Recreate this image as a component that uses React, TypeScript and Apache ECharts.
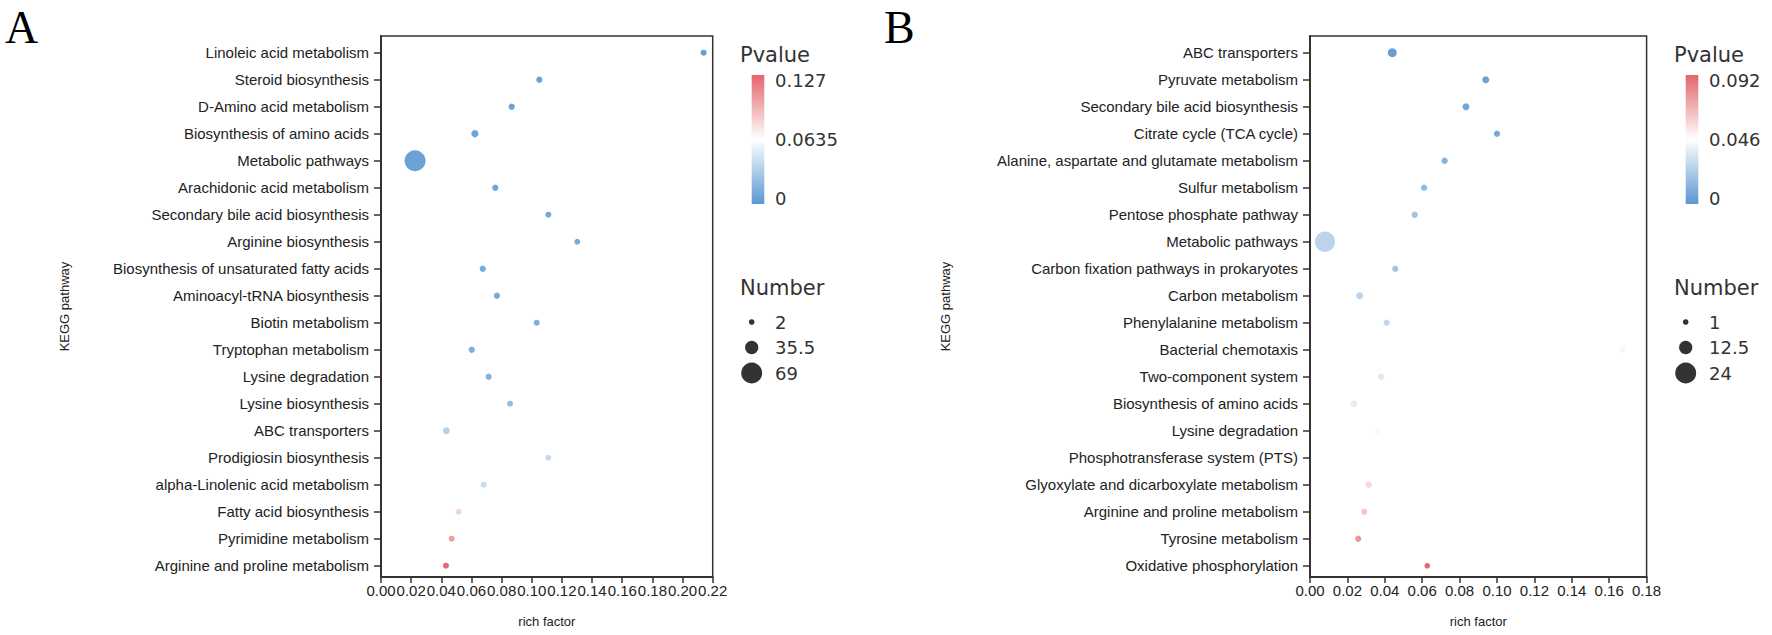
import React, { useEffect, useRef } from "react";
import * as echarts from "echarts";

// ---------- Panel A data ----------
const pathwaysA = [
  "Linoleic acid metabolism",
  "Steroid biosynthesis",
  "D-Amino acid metabolism",
  "Biosynthesis of amino acids",
  "Metabolic pathways",
  "Arachidonic acid metabolism",
  "Secondary bile acid biosynthesis",
  "Arginine biosynthesis",
  "Biosynthesis of unsaturated fatty acids",
  "Aminoacyl-tRNA biosynthesis",
  "Biotin metabolism",
  "Tryptophan metabolism",
  "Lysine degradation",
  "Lysine biosynthesis",
  "ABC transporters",
  "Prodigiosin biosynthesis",
  "alpha-Linolenic acid metabolism",
  "Fatty acid biosynthesis",
  "Pyrimidine metabolism",
  "Arginine and proline metabolism",
];
const richA = [0.214, 0.105, 0.0867, 0.0623, 0.0226, 0.0758, 0.111, 0.1302, 0.0675, 0.0769, 0.1033, 0.0602, 0.0714, 0.0856, 0.0433, 0.111, 0.0681, 0.0515, 0.0469, 0.0431];
const numberA = [4, 5, 5, 9, 69, 5, 4, 3, 5, 5, 4, 5, 5, 4, 8, 2, 4, 3, 4, 4];
const pvalueA = [0.004, 0.006, 0.007, 0.008, 0.006, 0.009, 0.01, 0.011, 0.012, 0.013, 0.014, 0.015, 0.016, 0.022, 0.035, 0.04, 0.043, 0.082, 0.103, 0.125];
const pTicksA = ["0.127", "0.0635", "0"];
const numTicksA = [2, 35.5, 69];

// ---------- Panel B data ----------
const pathwaysB = [
  "ABC transporters",
  "Pyruvate metabolism",
  "Secondary bile acid biosynthesis",
  "Citrate cycle (TCA cycle)",
  "Alanine, aspartate and glutamate metabolism",
  "Sulfur metabolism",
  "Pentose phosphate pathway",
  "Metabolic pathways",
  "Carbon fixation pathways in prokaryotes",
  "Carbon metabolism",
  "Phenylalanine metabolism",
  "Bacterial chemotaxis",
  "Two-component system",
  "Biosynthesis of amino acids",
  "Lysine degradation",
  "Phosphotransferase system (PTS)",
  "Glyoxylate and dicarboxylate metabolism",
  "Arginine and proline metabolism",
  "Tyrosine metabolism",
  "Oxidative phosphorylation",
];
const richB = [0.044, 0.094, 0.0834, 0.1, 0.072, 0.061, 0.056, 0.008, 0.0456, 0.0266, 0.041, 0.167, 0.038, 0.0235, 0.036, 0.0353, 0.0314, 0.029, 0.0258, 0.0627];
const numberB = [6, 3, 3, 2, 2, 2, 2, 23, 2, 3, 2, 1, 2, 3, 1, 1, 2, 2, 2, 1];
const pvalueB = [0.003, 0.005, 0.006, 0.008, 0.012, 0.016, 0.019, 0.027, 0.02, 0.027, 0.028, 0.042, 0.036, 0.038, 0.043, 0.046, 0.058, 0.063, 0.077, 0.09];
const pTicksB = ["0.092", "0.046", "0"];
const numTicksB = [1, 12.5, 24];

const BLUE = "#5a98d1";
const RED = "#e3646b";
const SIZE_RANGE = [5.6, 21];

function sizeOf(v: number, min: number, max: number) {
  return SIZE_RANGE[0] + ((v - min) / (max - min)) * (SIZE_RANGE[1] - SIZE_RANGE[0]);
}

const rows = (names: string[]) => names.map((_, i) => i);

const PAD_TOP = 0.62;
const PAD_BOTTOM = 0.42;
const ROW = 27;
const GRID_TOP = 36;
const GRID_H = (19 + PAD_TOP + PAD_BOTTOM) * ROW;

function buildAxes(gridIndex: number, names: string[], xMax: number, nameGap: number) {
  const xAxis = {
    type: "value",
    gridIndex,
    min: 0,
    max: xMax,
    interval: 0.02,
    name: "rich factor",
    nameLocation: "middle",
    nameGap: 38,
    nameTextStyle: { fontSize: 13, color: "#222", fontFamily: "Liberation Sans" },
    axisLine: { show: true, onZero: false, lineStyle: { color: "#333", width: 2 } },
    axisTick: { show: true, length: 6, lineStyle: { color: "#333", width: 1.5 } },
    axisLabel: {
      fontSize: 15,
      color: "#222",
      fontFamily: "Liberation Sans",
      margin: 6,
      formatter: (v: number) => v.toFixed(2),
    },
    splitLine: { show: false },
  };
  const yAxis = {
    type: "value",
    gridIndex,
    inverse: true,
    min: -PAD_TOP,
    max: names.length - 1 + PAD_BOTTOM,
    name: "KEGG pathway",
    nameLocation: "middle",
    nameGap,
    nameRotate: 90,
    nameTextStyle: { fontSize: 13, color: "#222", fontFamily: "Liberation Sans" },
    axisLine: { show: true, onZero: false, lineStyle: { color: "#333", width: 2 } },
    axisTick: { show: true, length: 7, customValues: rows(names), lineStyle: { color: "#333", width: 1.5 } },
    axisLabel: {
      customValues: rows(names),
      fontSize: 15,
      color: "#222",
      fontFamily: "Liberation Sans",
      margin: 12,
      formatter: (v: number) => names[Math.round(v)] ?? "",
    },
    splitLine: { show: false },
  };
  return { xAxis, yAxis };
}

function legendGraphics(x0: number, pTicks: string[], numTicks: number[]) {
  const els: any[] = [];
  const font = "DejaVu Sans";
  els.push({
    type: "text",
    x: x0,
    y: 55,
    style: { text: "Pvalue", fontSize: 21, fontFamily: font, fill: "#333", verticalAlign: "middle" },
  });
  els.push({
    type: "rect",
    shape: { x: x0 + 11.7, y: 75, width: 12.6, height: 129 },
    style: {
      fill: new echarts.graphic.LinearGradient(0, 0, 0, 1, [
        { offset: 0, color: RED },
        { offset: 0.5, color: "#ffffff" },
        { offset: 1, color: BLUE },
      ]),
    },
  });
  const py = [80, 139.5, 198];
  pTicks.forEach((t, i) => {
    els.push({
      type: "text",
      x: x0 + 35,
      y: py[i],
      style: { text: t, fontSize: 18, fontFamily: font, fill: "#333", verticalAlign: "middle" },
    });
  });
  els.push({
    type: "text",
    x: x0,
    y: 288,
    style: { text: "Number", fontSize: 21, fontFamily: font, fill: "#333", verticalAlign: "middle" },
  });
  const cy = [322, 347.5, 373];
  const nMin = numTicks[0];
  const nMax = numTicks[numTicks.length - 1];
  numTicks.forEach((n, i) => {
    els.push({
      type: "circle",
      shape: { cx: x0 + 11.7, cy: cy[i], r: sizeOf(n, nMin, nMax) / 2 },
      style: { fill: "#333" },
    });
    els.push({
      type: "text",
      x: x0 + 35,
      y: cy[i],
      style: { text: String(n), fontSize: 18, fontFamily: font, fill: "#333", verticalAlign: "middle" },
    });
  });
  return els;
}

export default function App() {
  const ref = useRef<HTMLDivElement>(null);
  useEffect(() => {
    if (!ref.current) return;
    const chart = echarts.init(ref.current, undefined, { renderer: "svg" });
    const a = buildAxes(0, pathwaysA, 0.22, 310);
    const b = buildAxes(1, pathwaysB, 0.18, 358);
    const dataA = pathwaysA.map((_, i) => [richA[i], i, numberA[i], pvalueA[i]]);
    const dataB = pathwaysB.map((_, i) => [richB[i], i, numberB[i], pvalueB[i]]);
    const gridStyle = { show: true, borderColor: "#333", borderWidth: 1.5, backgroundColor: "transparent" };
    chart.setOption({
      animation: false,
      backgroundColor: "#ffffff",
      textStyle: { fontFamily: "Liberation Sans" },
      grid: [
        { left: 381, top: GRID_TOP, width: 331.7, height: GRID_H, ...gridStyle },
        { left: 1310, top: GRID_TOP, width: 336.6, height: GRID_H, ...gridStyle },
      ],
      xAxis: [a.xAxis, b.xAxis],
      yAxis: [a.yAxis, b.yAxis],
      visualMap: [
        { type: "continuous", show: false, seriesIndex: 0, dimension: 3, min: 0, max: 0.127, inRange: { color: [BLUE, "#ffffff", RED] } },
        { type: "continuous", show: false, seriesIndex: 1, dimension: 3, min: 0, max: 0.092, inRange: { color: [BLUE, "#ffffff", RED] } },
        { type: "continuous", show: false, seriesIndex: 0, dimension: 2, min: 2, max: 69, inRange: { symbolSize: SIZE_RANGE } },
        { type: "continuous", show: false, seriesIndex: 1, dimension: 2, min: 1, max: 24, inRange: { symbolSize: SIZE_RANGE } },
      ],
      series: [
        { type: "scatter", xAxisIndex: 0, yAxisIndex: 0, data: dataA, symbol: "circle", itemStyle: { opacity: 1 } },
        { type: "scatter", xAxisIndex: 1, yAxisIndex: 1, data: dataB, symbol: "circle", itemStyle: { opacity: 1 } },
      ],
      graphic: [
        {
          type: "text",
          x: 5,
          y: 4,
          style: { text: "A", fontSize: 46, fontFamily: "Liberation Serif", fill: "#000" },
        },
        {
          type: "text",
          x: 884,
          y: 4,
          style: { text: "B", fontSize: 46, fontFamily: "Liberation Serif", fill: "#000" },
        },
        ...legendGraphics(740, pTicksA, numTicksA),
        ...legendGraphics(1674, pTicksB, numTicksB),
      ],
    });
    return () => chart.dispose();
  }, []);
  return <div ref={ref} style={{ position: "absolute", left: 0, top: 0, width: 1772, height: 635 }} />;
}
